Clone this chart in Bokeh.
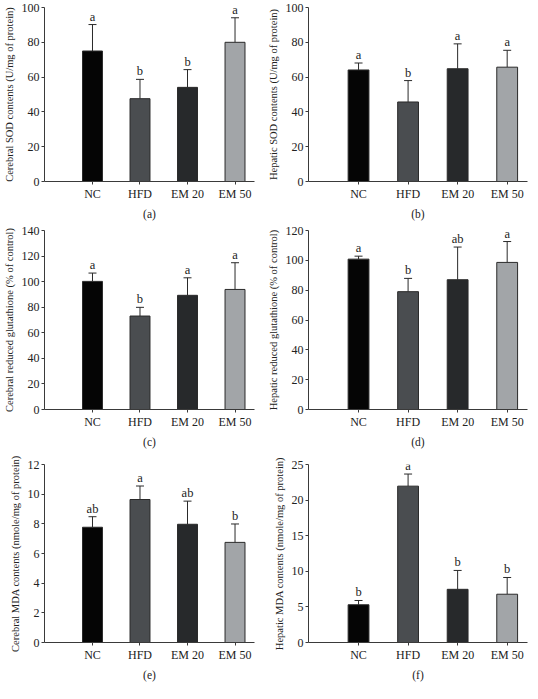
from bokeh.plotting import figure
from bokeh.models import ColumnDataSource, Range1d, FixedTicker, Whisker, TeeHead
from bokeh.layouts import gridplot
from bokeh.core.properties import value
from bokeh.embed import file_html
from bokeh.resources import INLINE

cats = ["NC", "HFD", "EM 20", "EM 50"]
bar_colors = ["#050505", "#4a4d50", "#27292b", "#a2a5a8"]

sod_cereb = [75.0, 47.6, 54.1, 80.0]
sod_cereb_err = [15.2, 11.1, 10.2, 14.1]
sod_cereb_sig = ["a", "b", "b", "a"]

sod_hep = [64.1, 45.7, 64.8, 65.7]
sod_hep_err = [4.0, 12.3, 14.3, 9.7]
sod_hep_sig = ["a", "b", "a", "a"]

gsh_cereb = [100.2, 73.1, 89.3, 93.9]
gsh_cereb_err = [6.5, 6.8, 13.7, 20.9]
gsh_cereb_sig = ["a", "b", "a", "a"]

gsh_hep = [100.8, 79.0, 87.0, 98.6]
gsh_hep_err = [2.0, 8.9, 21.9, 14.0]
gsh_hep_sig = ["a", "b", "ab", "a"]

mda_cereb = [7.77, 9.64, 7.97, 6.75]
mda_cereb_err = [0.71, 0.91, 1.56, 1.24]
mda_cereb_sig = ["ab", "a", "ab", "b"]

mda_hep = [5.30, 21.96, 7.47, 6.78]
mda_hep_err = [0.6, 1.7, 2.65, 2.35]
mda_hep_sig = ["b", "a", "b", "b"]

FONT = "Liberation Serif"
AX = "#3a3a3a"


def panel(vals, errs, sigs, ymax, ystep, ylabel, caption, width, min_left, min_right,
          height, top):
    xs = [i + 1 for i in range(len(cats))]
    src = ColumnDataSource(dict(
        x=xs, val=vals, hi=[v + e for v, e in zip(vals, errs)],
        sig=sigs, color=bar_colors))
    p = figure(width=width, height=height, output_backend="svg", toolbar_location=None,
               x_range=Range1d(-0.01, 4.41), y_range=Range1d(0, ymax),
               min_border_left=min_left, min_border_right=min_right, min_border_top=top,
               min_border_bottom=0)
    p.outline_line_color = None
    p.grid.visible = False
    p.background_fill_color = "white"
    p.vbar(x="x", top="val", bottom=0, width=0.42, source=src,
           fill_color="color", line_color="#2a2a2a", line_width=1)
    w = Whisker(source=src, base="x", upper="hi", lower="val", dimension="height",
                line_color="#2a2a2a", line_width=1,
                upper_head=TeeHead(size=8, line_color="#2a2a2a", line_width=1),
                lower_head=None)
    p.add_layout(w)
    p.text(x="x", y="hi", text="sig", source=src, text_align="center",
           text_baseline="bottom", y_offset=-1, text_font=value(FONT),
           text_font_size="12.5px", text_color="#222222")

    p.yaxis.ticker = FixedTicker(ticks=list(range(0, ymax + 1, ystep)))
    p.xaxis.ticker = FixedTicker(ticks=xs)
    p.xaxis.major_label_overrides = {x: c for x, c in zip(xs, cats)}
    for ax in (p.xaxis[0], p.yaxis[0]):
        ax.axis_line_color = AX
        ax.major_tick_line_color = AX
        ax.major_tick_out = 3
        ax.major_tick_in = 0
        ax.minor_tick_line_color = None
        ax.major_label_text_font = FONT
        ax.major_label_text_font_size = "12px"
        ax.major_label_text_color = "#222222"
        ax.axis_label_text_font = FONT
        ax.axis_label_text_font_style = "normal"
        ax.axis_label_text_color = "#222222"
    p.yaxis.axis_label_text_font_size = "10.5px"
    p.xaxis.axis_label_text_font_size = "11.5px"
    p.yaxis.major_label_standoff = 2
    p.yaxis.axis_label_standoff = 4
    p.xaxis.major_label_standoff = 2
    p.xaxis.axis_label_standoff = 4
    p.yaxis.axis_label = ylabel
    p.xaxis.axis_label = caption
    return p


LW, RW = 262, 268
H = [222, 228, 233]

p1 = panel(sod_cereb, sod_cereb_err, sod_cereb_sig, 100, 20,
           "Cerebral SOD contents (U/mg of protein)", "(a)", LW, 33, 8, H[0], 7)
p2 = panel(sod_hep, sod_hep_err, sod_hep_sig, 100, 20,
           "Hepatic SOD contents (U/mg of protein)", "(b)", RW, 46, 3, H[0], 7)
p3 = panel(gsh_cereb, gsh_cereb_err, gsh_cereb_sig, 140, 20,
           "Cerebral reduced glutathione (% of control)", "(c)", LW, 33, 8, H[1], 8)
p4 = panel(gsh_hep, gsh_hep_err, gsh_hep_sig, 120, 20,
           "Hepatic reduced glutathione (% of control)", "(d)", RW, 46, 3, H[1], 8)
p5 = panel(mda_cereb, mda_cereb_err, mda_cereb_sig, 12, 2,
           "Cerebral MDA contents (nmole/mg of protein)", "(e)", LW, 33, 8, H[2], 14)
p6 = panel(mda_hep, mda_hep_err, mda_hep_sig, 25, 5,
           "Hepatic MDA contents (nmole/mg of protein)", "(f)", RW, 46, 3, H[2], 14)

layout = gridplot([[p1, p2], [p3, p4], [p5, p6]], toolbar_location=None)

open("out.html", "w").write(file_html(layout, INLINE))
